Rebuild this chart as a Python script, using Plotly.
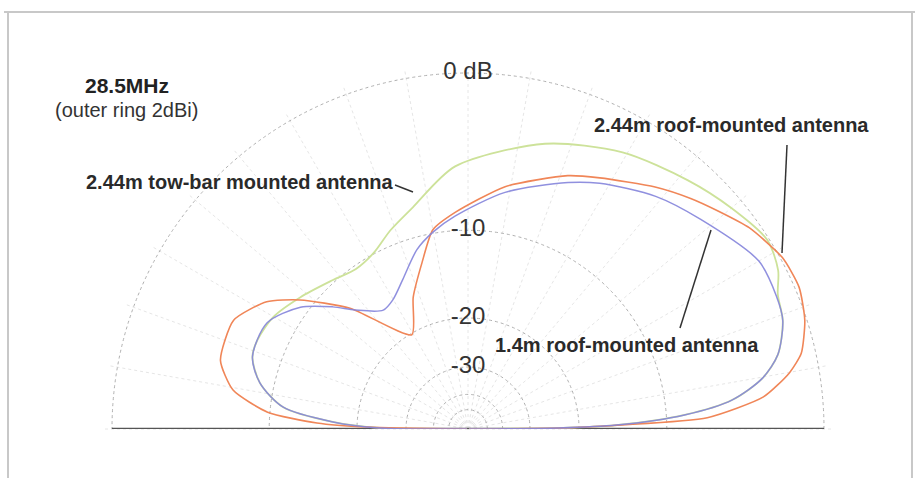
import plotly.graph_objects as go

# ---------------- data (elevation angle in degrees, gain in dB) ----------------
ring_db = [0, -10, -20, -30, -40, -50]
ring_labels = ["0 dB", "-10", "-20", "-30"]
spoke_angles = list(range(0, 181, 10))

towbar_angle = [0, 0.6, 1.5, 3.7, 6.3, 9.8, 13.5, 19, 23.5, 27.1, 32.3, 40, 48.5, 60.8,
                74.9, 92.8, 103.9, 111.4, 118, 125, 132.2, 141.8, 150.1, 157.1, 161.5,
                167.5, 173.2, 177, 179.3, 180]
towbar_db = [-99, -23.5, -15, -8.5, -5.0, -3.0, -1.9, -1.15, -0.9, -0.37, -0.1, -0.6, -1.2, -2.0,
             -3.2, -5.2, -7.6, -8.8, -9.9, -10.3, -9.8, -8.8, -7.9, -7.6, -7.7,
             -8.8, -11.1, -16.6, -24, -99]

roof244_angle = [0, 0.6, 1.5, 2.7, 6.2, 9.9, 12.8, 17.9, 23.2, 28.6, 35.6, 41, 46, 52.3,
                 62.3, 68.5, 81.3, 93.4, 100, 105.4, 112.6, 120.8, 134.3, 142.5, 147.7,
                 155.1, 164.5, 170.6, 175.2, 177.7, 178.9, 180]
roof244_db = [-99, -23, -14.4, -6.8, -3.1, -1.5, -0.7, -0.1, 0.2, 0.1, -0.5, -1.2, -1.8, -2.6,
              -3.9, -4.6, -6.4, -8.5, -9.7, -12.4, -15.7, -20.2, -12.8, -8.9, -6.9,
              -5.5, -5.6, -6.9, -9.8, -14.7, -21.6, -99]

roof14_angle = [0, 0.6, 1.5, 3.7, 6.3, 9.8, 13.5, 19, 23.3, 30, 42, 51.1, 61.8, 67.9,
                81.1, 93.5, 100.1, 105.9, 113.6, 120.2, 125.5, 133.5, 137.9, 144, 152.2,
                161.5, 167.5, 173.2, 177, 179.3, 180]
roof14_db = [-99, -23.5, -15, -8.5, -5.0, -3.0, -1.9, -1.15, -1.0, -1.0, -2.2, -3.0, -4.2, -5.0,
             -6.8, -8.8, -9.9, -11.1, -13.4, -14.9, -15.3, -13.3, -11.5, -9.3, -7.7,
             -7.7, -8.8, -11.1, -16.6, -24, -99]


def to_r(db):
    """ARRL log scale: each 2 dB step shrinks the radius by 0.89 (0 dB -> 1)."""
    return 0.89 ** (-db / 2.0)


W, H = 915, 478


def px(x):
    return x / W


def py(y):
    return 1 - y / H


fig = go.Figure()

# ground line across the 0 dB ring
fig.add_trace(go.Scatterpolar(r=[to_r(0), to_r(0)], theta=[0, 180], mode="lines",
                              line=dict(color="#555555", width=2.5),
                              hoverinfo="skip", showlegend=False))

fig.add_trace(go.Scatterpolar(r=[to_r(d) for d in towbar_db], theta=towbar_angle,
                              mode="lines", name="2.44m tow-bar mounted antenna",
                              line=dict(color="#cde29a", width=1.8, shape="spline", smoothing=0.8),
                              showlegend=False))
fig.add_trace(go.Scatterpolar(r=[to_r(d) for d in roof244_db], theta=roof244_angle,
                              mode="lines", name="2.44m roof-mounted antenna",
                              line=dict(color="#f08658", width=1.6, shape="spline", smoothing=0.6),
                              showlegend=False))
fig.add_trace(go.Scatterpolar(r=[to_r(d) for d in roof14_db], theta=roof14_angle,
                              mode="lines", name="1.4m roof-mounted antenna",
                              line=dict(color="#8585dc", width=1.5, shape="spline", smoothing=0.8),
                              opacity=0.9, showlegend=False))

# ring labels on the vertical axis
fig.add_trace(go.Scatterpolar(r=[to_r(d) for d in ring_db[:len(ring_labels)]],
                              theta=[90] * len(ring_labels), mode="text",
                              text=ring_labels,
                              textfont=dict(family="Liberation Sans, Arial", size=24, color="#333333"),
                              hoverinfo="skip", showlegend=False))

rmax = to_r(0.35)
R_px = 356 * rmax
cx, cy = 468, 429

fig.update_layout(
    width=W, height=H,
    margin=dict(l=0, r=0, t=0, b=0),
    paper_bgcolor="white",
    plot_bgcolor="white",
    font=dict(family="Liberation Sans, Arial", color="#222222"),
    polar=dict(
        domain=dict(x=[px(cx - R_px), px(cx + R_px)], y=[py(cy), py(cy - R_px)]),
        sector=[0, 180],
        bgcolor="rgba(0,0,0,0)",
        radialaxis=dict(range=[0, rmax], tickvals=[to_r(d) for d in ring_db],
                        showticklabels=False, ticks="", showline=False,
                        gridcolor="#b0b0b0", griddash="dot", gridwidth=1),
        angularaxis=dict(rotation=0, direction="counterclockwise", tickvals=spoke_angles,
                         showticklabels=False, ticks="", showline=False,
                         gridcolor="#e6e6e6", griddash="dot", gridwidth=1),
    ),
)

texts = [
    ("<b>28.5MHz</b>", 127, 85, 21, "#222222"),
    ("(outer ring 2dBi)", 126, 110, 20, "#333333"),
    ("<b>2.44m tow-bar mounted antenna</b>", 240, 182, 20, "#2a2a2a"),
    ("<b>2.44m roof-mounted antenna</b>", 731, 125, 20, "#2a2a2a"),
    ("<b>1.4m roof-mounted antenna</b>", 627, 345, 20, "#2a2a2a"),
]
for t, x, y, s, c in texts:
    fig.add_annotation(text=t, x=px(x), y=py(y), xref="paper", yref="paper",
                       xanchor="center", yanchor="middle", showarrow=False,
                       font=dict(family="Liberation Sans, Arial", size=s, color=c))

leaders = [((395, 185), (413, 192)), ((787, 145), (782, 253)), ((680, 328), (711, 230))]
for (x0, y0), (x1, y1) in leaders:
    fig.add_shape(type="line", xref="paper", yref="paper", x0=px(x0), y0=py(y0),
                  x1=px(x1), y1=py(y1), line=dict(color="#333333", width=1.5))

# light frame
for (x0, y0), (x1, y1) in [((4, 12), (915, 12)), ((8, 12), (8, 478)), ((912, 12), (912, 478))]:
    fig.add_shape(type="line", xref="paper", yref="paper", x0=px(x0), y0=py(y0),
                  x1=px(x1), y1=py(y1), line=dict(color="#c8c8c8", width=2))

fig.write_html("out.html", config={"displayModeBar": False},
               post_script="document.body.style.margin='0';document.body.style.overflow='hidden';")
